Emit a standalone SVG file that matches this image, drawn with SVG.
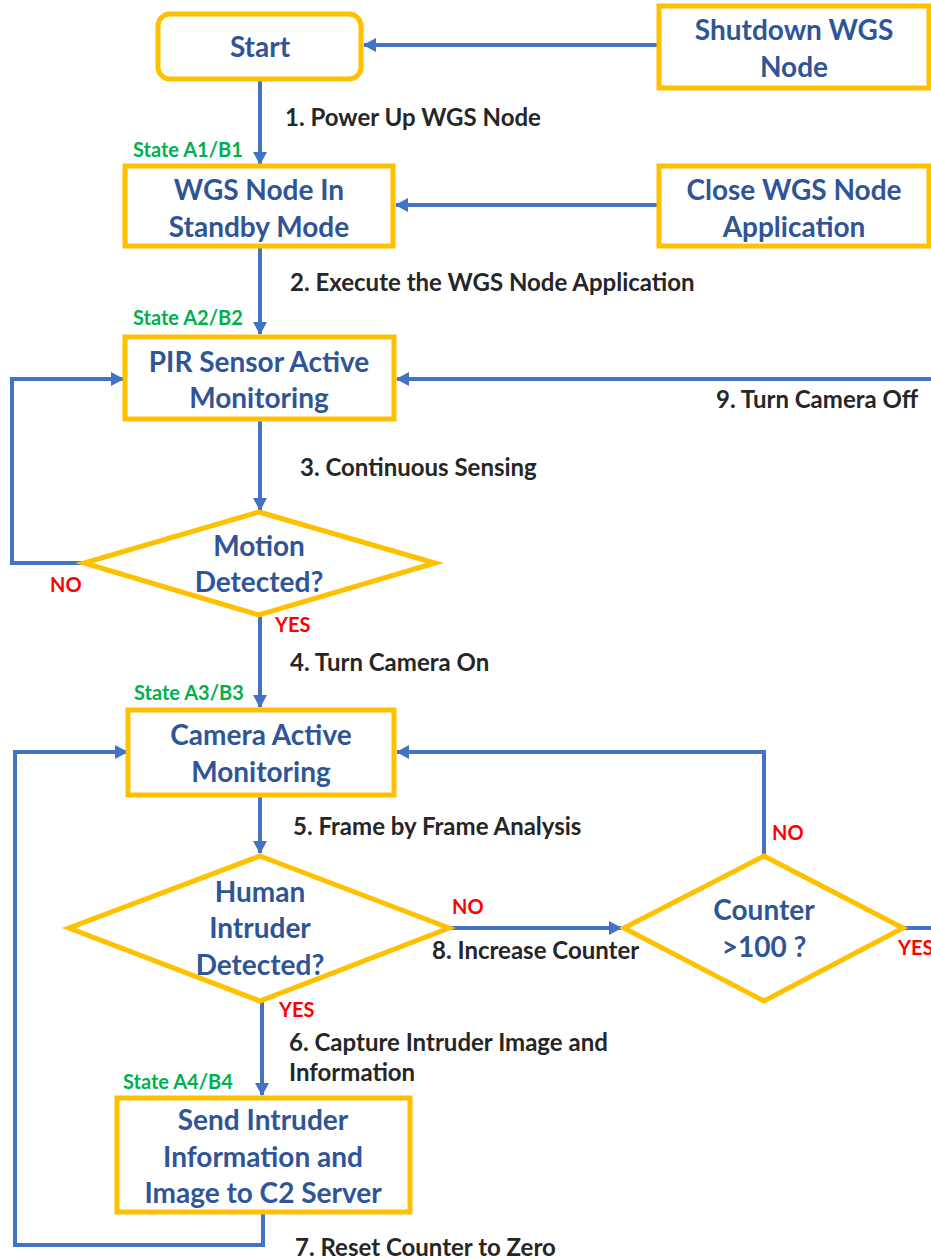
<svg xmlns="http://www.w3.org/2000/svg" width="931" height="1259" viewBox="0 0 931 1259">
<style>
.box{fill:#fff;stroke:#FFC000;stroke-width:5}
.nt{font-family:Lato,"Liberation Sans",sans-serif;font-weight:bold;font-size:28px;fill:#2F5597;text-anchor:middle}
.lb{font-family:Lato,"Liberation Sans",sans-serif;font-weight:bold;font-size:24px;fill:#262626}
.st{font-family:Lato,"Liberation Sans",sans-serif;font-weight:bold;font-size:20px;fill:#00B050}
.rd{font-family:Lato,"Liberation Sans",sans-serif;font-weight:bold;font-size:20px;fill:#FF0000}
.cn{fill:none;stroke:#4472C4;stroke-width:4}
.ar{marker-end:url(#ah)}
</style>
<defs>
<marker id="ah" markerUnits="userSpaceOnUse" markerWidth="14" markerHeight="14" refX="12" refY="7" orient="auto">
<path d="M0,0 L13,7 L0,14 z" fill="#4472C4"/>
</marker>
</defs>
<rect width="931" height="1259" fill="#fff"/>
<g id="connectors">
<path class="cn ar" d="M659,45 L364,45"/>
<path class="cn ar" d="M260,80 L260,164"/>
<path class="cn ar" d="M659,205 L396,205"/>
<path class="cn ar" d="M260,247 L260,334"/>
<path class="cn ar" d="M931,379 L397,379"/>
<path class="cn ar" d="M260,420 L260,510"/>
<path class="cn ar" d="M83,563 L12,563 L12,379 L123,379"/>
<path class="cn ar" d="M260,615 L260,707"/>
<path class="cn ar" d="M260,795 L260,853"/>
<path class="cn ar" d="M450,928 L621,928"/>
<path class="cn ar" d="M764,855 L764,752 L397,752"/>
<path class="cn" d="M903,928 L931,928"/>
<path class="cn ar" d="M262,1002 L262,1095"/>
<path class="cn ar" d="M263,1213 L263,1245 L15,1245 L15,752 L127,752"/>
</g>
<g id="n-start">
<rect class="box" x="158" y="14" width="203" height="65" rx="12"/>
<text class="nt" x="260" y="57">Start</text>
</g>
<g id="n-shutdown">
<rect class="box" x="659" y="6" width="270" height="82"/>
<text class="nt" x="794" y="40">Shutdown WGS</text>
<text class="nt" x="794" y="77">Node</text>
</g>
<g id="n-standby">
<rect class="box" x="125" y="166" width="268" height="80"/>
<text class="nt" x="259" y="200">WGS Node In</text>
<text class="nt" x="259" y="237">Standby Mode</text>
</g>
<g id="n-close">
<rect class="box" x="659" y="166" width="270" height="80"/>
<text class="nt" x="794" y="200">Close WGS Node</text>
<text class="nt" x="794" y="237">Application</text>
</g>
<g id="n-pir">
<rect class="box" x="125" y="337" width="269" height="82"/>
<text class="nt" x="259" y="372">PIR Sensor Active</text>
<text class="nt" x="259" y="408">Monitoring</text>
</g>
<g id="n-motion">
<polygon class="box" points="259,512 435,563 259,615 84,563"/>
<text class="nt" x="259" y="556">Motion</text>
<text class="nt" x="259" y="592">Detected?</text>
</g>
<g id="n-camera">
<rect class="box" x="128" y="710" width="266" height="85"/>
<text class="nt" x="261" y="745">Camera Active</text>
<text class="nt" x="261" y="782">Monitoring</text>
</g>
<g id="n-human">
<polygon class="box" points="260,856 449,928 260,1001 69,928"/>
<text class="nt" x="260" y="902">Human</text>
<text class="nt" x="260" y="938">Intruder</text>
<text class="nt" x="260" y="975">Detected?</text>
</g>
<g id="n-counter">
<polygon class="box" points="764,856 903,928 764,1001 624,928"/>
<text class="nt" x="764" y="920">Counter</text>
<text class="nt" x="764" y="957">&gt;100 ?</text>
</g>
<g id="n-send">
<rect class="box" x="117" y="1098" width="293" height="114"/>
<text class="nt" x="263" y="1130">Send Intruder</text>
<text class="nt" x="263" y="1167">Information and</text>
<text class="nt" x="263" y="1203">Image to C2 Server</text>
</g>
<g id="labels">
<text class="lb" x="285" y="126">1. Power Up WGS Node</text>
<text class="lb" x="290" y="291">2. Execute the WGS Node Application</text>
<text class="lb" x="716" y="408">9. Turn Camera Off</text>
<text class="lb" x="300" y="476">3. Continuous Sensing</text>
<text class="lb" x="290" y="671">4. Turn Camera On</text>
<text class="lb" x="293" y="835">5. Frame by Frame Analysis</text>
<text class="lb" x="432" y="959">8. Increase Counter</text>
<text class="lb" x="289" y="1051">6. Capture Intruder Image and</text>
<text class="lb" x="289" y="1081">Information</text>
<text class="lb" x="295" y="1256">7. Reset Counter to Zero</text>
<text class="st" x="133" y="157">State A1/B1</text>
<text class="st" x="133" y="325">State A2/B2</text>
<text class="st" x="134" y="700">State A3/B3</text>
<text class="st" x="123" y="1089">State A4/B4</text>
<text class="rd" x="50" y="592">NO</text>
<text class="rd" x="275" y="632">YES</text>
<text class="rd" x="772" y="840">NO</text>
<text class="rd" x="452" y="914">NO</text>
<text class="rd" x="279" y="1017">YES</text>
<text class="rd" x="898" y="955">YES</text>
</g>
</svg>
